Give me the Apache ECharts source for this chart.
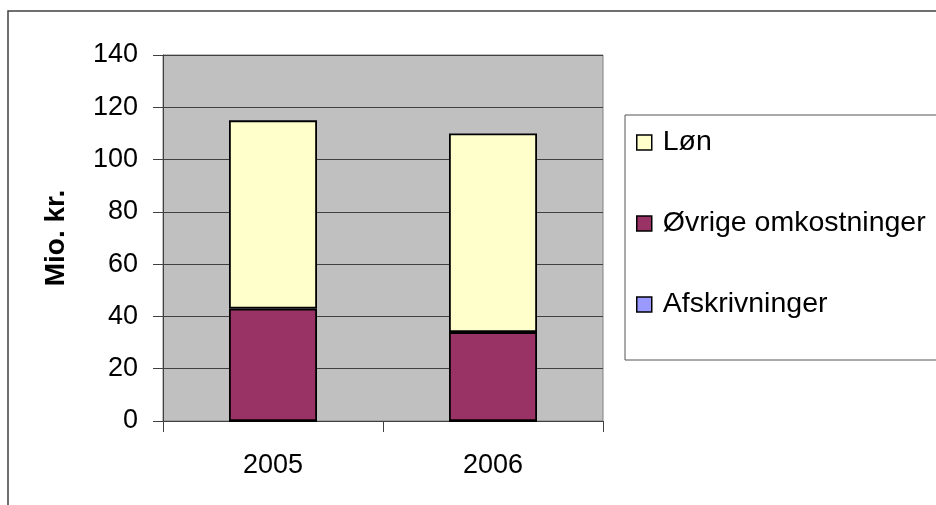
<!DOCTYPE html>
<html>
<head>
<meta charset="utf-8">
<script src="https://cdn.jsdelivr.net/npm/echarts@6/dist/echarts.min.js"></script>
<style>
html,body{margin:0;padding:0;background:#fff;}
#chart{width:936px;height:505px;}
</style>
</head>
<body>
<div id="chart"></div>
<script>
var categories = ['2005', '2006'];
var afskrivninger = [0, 0];
var ovrige = [43, 34];
var lon = [72, 76];
var legendOrder = ['Løn', 'Øvrige omkostninger', 'Afskrivninger'];
var yAxisName = 'Mio. kr.';

var FONT = '"Liberation Sans", Arial, sans-serif';
var chart = echarts.init(document.getElementById('chart'));

function barSeries(name, data, color) {
  return {
    name: name,
    type: 'bar',
    stack: 'total',
    data: data,
    barWidth: '40%',
    itemStyle: { color: color, borderColor: '#000', borderWidth: 1.8 },
    emphasis: { disabled: true },
    animation: false
  };
}

chart.setOption({
  animation: false,
  textStyle: { fontFamily: FONT },
  grid: {
    left: 163, top: 55, width: 440, height: 366,
    show: true, backgroundColor: '#C0C0C0',
    borderColor: '#808080', borderWidth: 1,
    containLabel: false
  },
  legend: {
    orient: 'vertical',
    left: 636, top: 128,
    padding: 0,
    itemWidth: 15, itemHeight: 15,
    itemGap: 52,
    icon: 'rect',
    data: legendOrder,
    selectedMode: false,
    itemStyle: { borderColor: '#000', borderWidth: 1.5 },
    textStyle: { fontSize: 28.5, lineHeight: 28, color: '#000', fontFamily: FONT, padding: [0, 0, 0, 6] }
  },
  xAxis: {
    type: 'category',
    data: categories,
    boundaryGap: true,
    axisLine: { lineStyle: { color: '#404040', width: 1 } },
    axisTick: { show: true, length: 11, alignWithLabel: false, lineStyle: { color: '#404040' } },
    axisLabel: { fontSize: 27, color: '#000', margin: 31, fontFamily: FONT },
    splitLine: { show: false }
  },
  yAxis: {
    type: 'value',
    min: 0, max: 140, interval: 20,
    name: yAxisName,
    nameLocation: 'middle',
    nameGap: 93,
    nameTextStyle: { fontSize: 28, fontWeight: 'bold', color: '#000', fontFamily: FONT },
    axisLine: { show: true, lineStyle: { color: '#404040', width: 1 } },
    axisTick: { show: true, length: 10, lineStyle: { color: '#404040' } },
    axisLabel: { fontSize: 27, color: '#000', margin: 25, fontFamily: FONT },
    splitLine: { show: true, lineStyle: { color: '#404040', width: 1 } }
  },
  graphic: [
    {
      type: 'rect',
      shape: { x: 8, y: 11, width: 1000, height: 600 },
      style: { fill: 'none', stroke: '#404040', lineWidth: 1.5 },
      silent: true, z: -1
    },
    {
      type: 'rect',
      shape: { x: 625, y: 115, width: 400, height: 245 },
      style: { fill: '#fff', stroke: '#555', lineWidth: 1 },
      silent: true, z: -1
    }
  ],
  series: [
    barSeries('Afskrivninger', afskrivninger, '#9999FF'),
    barSeries('Øvrige omkostninger', ovrige, '#993366'),
    barSeries('Løn', lon, '#FFFFCC')
  ]
});
</script>
</body>
</html>
